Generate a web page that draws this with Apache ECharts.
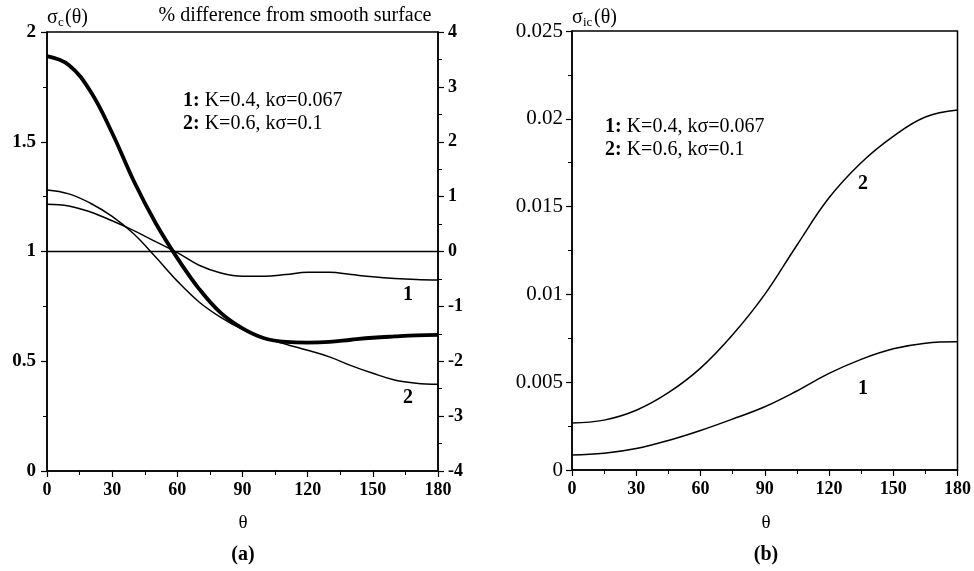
<!DOCTYPE html>
<html><head><meta charset="utf-8">
<script src="https://cdn.jsdelivr.net/npm/echarts@6/dist/echarts.min.js"></script>
<style>html,body{margin:0;padding:0;background:#fff}#c{width:974px;height:571px}</style>
</head><body><div id="c"></div>
<script>
// ---- Data ----
// Panel (a): sigma_c(theta) of the smooth surface, left axis
const thetaA = [0,10,20,30,40,50,60,70,80,90,100,110,120,130,140,150,160,170,180];
const smoothSigma = [1.89,1.85,1.73,1.54,1.32,1.13,0.97,0.83,0.72,0.65,0.605,0.588,0.585,0.588,0.598,0.607,0.613,0.618,0.62];
// % difference from smooth surface, right axis
const diff1 = [0.86,0.83,0.72,0.56,0.38,0.18,-0.02,-0.25,-0.39,-0.45,-0.45,-0.42,-0.38,-0.38,-0.42,-0.46,-0.49,-0.51,-0.52];
const diff2 = [1.12,1.05,0.88,0.64,0.32,-0.10,-0.54,-0.92,-1.20,-1.42,-1.57,-1.69,-1.80,-1.92,-2.08,-2.22,-2.34,-2.40,-2.42];
const zeroLine = [0, 0];
const zeroTheta = [0, 180];
// Panel (b): sigma_ic(theta)
const thetaB = [0,15,30,45,60,75,90,105,120,135,150,165,180];
const sic1 = [0.00085,0.00095,0.00122,0.00168,0.00225,0.0029,0.0036,0.0045,0.0055,0.0063,0.0069,0.00722,0.0073];
const sic2 = [0.00268,0.00284,0.0034,0.0044,0.0058,0.0077,0.0100,0.0128,0.0155,0.0175,0.0190,0.0201,0.0205];
const legendLines = ['K=0.4, k\u03c3=0.067', 'K=0.6, k\u03c3=0.1'];

const pairs = (xs, ys) => xs.map((x, i) => [x, ys[i]]);
const FONT = 'Liberation Serif';
const tickLabel = {fontFamily: FONT, fontSize: 18, fontWeight: 'bold', color: '#000'};
const axLine = {show: true, lineStyle: {color: '#000', width: 1.5}};
const tick = {show: true, inside: false, length: 6, lineStyle: {color: '#000', width: 1.2}};
const minor = {show: true, splitNumber: 2, length: 4, lineStyle: {color: '#000', width: 1}};

function xAx(gi) {
  return {type: 'value', gridIndex: gi, min: 0, max: 180, interval: 30,
    axisLine: axLine, axisTick: tick, minorTick: minor, splitLine: {show: false},
    axisLabel: Object.assign({margin: 10}, tickLabel)};
}
function line(xi, yi, xs, ys, w) {
  return {type: 'line', xAxisIndex: xi, yAxisIndex: yi, data: pairs(xs, ys), smooth: 0.4,
    showSymbol: false, silent: true, lineStyle: {color: '#000', width: w}};
}

const chart = echarts.init(document.getElementById('c'), null, {renderer: 'canvas'});
// plain text element
const pt = (x, y, text, size, weight, align) => ({type: 'text', x: x, y: y, silent: true,
  style: {text: text, textAlign: align || 'left', textVerticalAlign: 'middle', fill: '#000',
    fontFamily: FONT, fontSize: size, fontWeight: weight || 'normal'}});
// rich text element
const rt = (x, y, text, align) => ({type: 'text', x: x, y: y, silent: true,
  style: {text: text, textAlign: align || 'left', textVerticalAlign: 'middle', fill: '#000',
    fontFamily: FONT, fontSize: 20,
    rich: {b: {fontFamily: FONT, fontSize: 20, fontWeight: 'bold'},
           n: {fontFamily: FONT, fontSize: 20}}}});

chart.setOption({
  animation: false,
  backgroundColor: '#fff',
  grid: [
    {left: 47, right: 536, top: 32, bottom: 100, show: true, borderColor: '#000', borderWidth: 1.5},
    {left: 572, right: 16, top: 31, bottom: 101, show: true, borderColor: '#000', borderWidth: 1.5}
  ],
  xAxis: [xAx(0), xAx(1)],
  yAxis: [
    {type: 'value', gridIndex: 0, min: 0, max: 2, interval: 0.5, axisLine: axLine, axisTick: tick,
      minorTick: minor, splitLine: {show: false}, axisLabel: Object.assign({margin: 11}, tickLabel, {fontSize: 19})},
    {type: 'value', gridIndex: 0, position: 'right', min: -4, max: 4, interval: 1, axisLine: axLine,
      axisTick: tick, minorTick: minor, splitLine: {show: false}, axisLabel: Object.assign({margin: 10}, tickLabel)},
    {type: 'value', gridIndex: 1, min: 0, max: 0.025, interval: 0.005, axisLine: axLine, axisTick: tick,
      minorTick: minor, splitLine: {show: false}, axisLabel: Object.assign({margin: 9}, tickLabel, {fontSize: 21, fontWeight: 'normal'})}
  ],
  series: [
    line(0, 1, zeroTheta, zeroLine, 1.3),
    line(0, 0, thetaA, smoothSigma, 3.8),
    line(0, 1, thetaA, diff1, 1.5),
    line(0, 1, thetaA, diff2, 1.5),
    line(1, 2, thetaB, sic1, 1.5),
    line(1, 2, thetaB, sic2, 1.5)
  ],
  graphic: [
    pt(47, 18, '\u03c3', 20), pt(58, 23, 'c', 13), pt(65, 18, '(\u03b8)', 20),
    pt(295, 16, '% difference from smooth surface', 20, 'normal', 'center'),
    pt(572, 18, '\u03c3', 20), pt(583, 23, 'ic', 13), pt(594, 18, '(\u03b8)', 20),
    rt(183, 101, '{b|1:} {n|' + legendLines[0] + '}'),
    rt(183, 124, '{b|2:} {n|' + legendLines[1] + '}'),
    rt(605, 127, '{b|1:} {n|' + legendLines[0] + '}'),
    rt(605, 150, '{b|2:} {n|' + legendLines[1] + '}'),
    pt(408, 295, '1', 20, 'bold', 'center'),
    pt(408, 398, '2', 20, 'bold', 'center'),
    pt(863, 184, '2', 20, 'bold', 'center'),
    pt(863, 389, '1', 20, 'bold', 'center'),
    pt(243, 523, '\u03b8', 19, 'normal', 'center'),
    pt(766, 523, '\u03b8', 19, 'normal', 'center'),
    pt(243, 555, '(a)', 20, 'bold', 'center'),
    pt(766, 555, '(b)', 20, 'bold', 'center')
  ]
});
</script>
</body></html>
